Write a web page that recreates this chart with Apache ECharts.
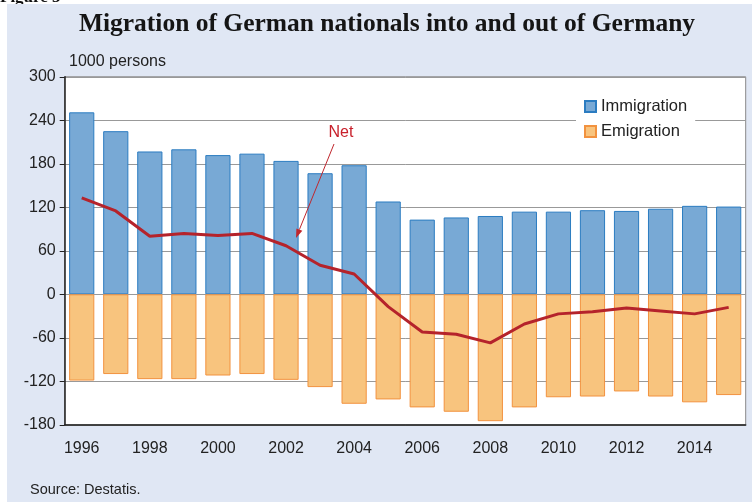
<!DOCTYPE html>
<html>
<head>
<meta charset="utf-8">
<script src="https://cdn.jsdelivr.net/npm/echarts@6/dist/echarts.min.js"></script>
<style>
  html, body { margin: 0; padding: 0; background: #fff; }
  #chart { width: 752px; height: 502px; }
</style>
</head>
<body>
<div id="chart"></div>
<script>
// data, in 1000 persons
const years = ['1996', '1997', '1998', '1999', '2000', '2001', '2002', '2003', '2004', '2005',
  '2006', '2007', '2008', '2009', '2010', '2011', '2012', '2013', '2014', '2015'];
const immigration = [251, 225, 197, 200, 192, 194, 184, 167, 178, 128,
  103, 106, 108, 114, 114, 116, 115, 118, 122, 121];
const emigration = [-119, -110, -117, -117, -112, -110, -118, -128, -151, -145,
  -156, -162, -175, -156, -142, -141, -134, -141, -149, -139];
const net = [133, 115, 80, 84, 81, 84, 67, 40, 28, -17,
  -52, -55, -67, -41, -27, -24, -19, -23, -27, -18];
const yTicks = { min: -180, max: 300, step: 60 };

const sans = 'Liberation Sans';
const chart = echarts.init(document.getElementById('chart'));

// small arrow for the "Net" note
function arrow(x1, y1, x2, y2, color) {
  const a = Math.atan2(y2 - y1, x2 - x1);
  const len = 9, half = 3.2;
  const bx = x2 - len * Math.cos(a), by = y2 - len * Math.sin(a);
  const px = -Math.sin(a) * half, py = Math.cos(a) * half;
  return [
    { type: 'line', z: 20, shape: { x1: x1, y1: y1, x2: bx, y2: by }, style: { stroke: color, lineWidth: 1 } },
    { type: 'polygon', z: 20, shape: { points: [[x2, y2], [bx + px, by + py], [bx - px, by - py]] }, style: { fill: color } }
  ];
}

const option = {
  backgroundColor: '#fff',
  animation: false,
  textStyle: { fontFamily: sans },
  grid: {
    left: 64.7, right: 6.3, top: 76.8, bottom: 77.2,
    show: true, backgroundColor: '#fff', borderColor: '#888', borderWidth: 1
  },
  legend: {
    data: ['Immigration', 'Emigration'],
    icon: 'rect',
    orient: 'vertical',
    left: 576, top: 91,
    padding: [7, 8, 7, 8],
    itemWidth: 11, itemHeight: 11, itemGap: 8,
    backgroundColor: '#fff',
    textStyle: { fontSize: 16.5, color: '#222', fontFamily: sans }
  },
  xAxis: {
    type: 'category',
    data: years,
    boundaryGap: true,
    axisLine: { onZero: false, lineStyle: { color: '#222', width: 1.5 } },
    axisTick: { interval: 0, length: 5, lineStyle: { color: '#222' } },
    axisLabel: { interval: 1, fontSize: 16, color: '#222', margin: 16, fontFamily: sans }
  },
  yAxis: {
    type: 'value',
    min: yTicks.min, max: yTicks.max, interval: yTicks.step,
    axisLine: { show: true, lineStyle: { color: '#222', width: 1.5 } },
    axisTick: { show: true, length: 5, lineStyle: { color: '#222' } },
    axisLabel: { fontSize: 16, color: '#222', margin: 9, fontFamily: sans },
    splitLine: { lineStyle: { color: '#999', width: 1 } }
  },
  series: [
    {
      name: 'Immigration', type: 'bar', stack: 'mig', data: immigration,
      barCategoryGap: '26%',
      itemStyle: { color: '#78a9d5', borderColor: '#2b7cc1', borderWidth: 1 }
    },
    {
      name: 'Emigration', type: 'bar', stack: 'mig', data: emigration,
      itemStyle: { color: '#f8c47e', borderColor: '#f2923f', borderWidth: 1 }
    },
    {
      name: 'Net', type: 'line', data: net, z: 5,
      symbol: 'none',
      lineStyle: { color: '#b5232b', width: 3 }
    }
  ],
  graphic: [
    { type: 'rect', z: -10, silent: true, shape: { x: 7, y: 4, width: 745, height: 498 }, style: { fill: '#e0e7f4' } },
    { type: 'text', z: -20, left: 0, top: -11, style: { text: 'Figure 3', font: 'bold 17px "Liberation Serif"', fill: '#111' } },
    { type: 'text', x: 387, y: 37, style: { text: 'Migration of German nationals into and out of Germany',
      font: 'bold 25.5px "Liberation Serif"', fill: '#151515', textAlign: 'center', textVerticalAlign: 'bottom' } },
    { type: 'text', x: 69, y: 62, style: { text: '1000 persons', font: '16px "Liberation Sans"', fill: '#222', textVerticalAlign: 'middle' } },
    { type: 'text', x: 30, y: 490, style: { text: 'Source: Destatis.', font: '14.5px "Liberation Sans"', fill: '#222', textVerticalAlign: 'middle' } },
    { type: 'text', z: 20, x: 341, y: 133, style: { text: 'Net', font: '16px "Liberation Sans"', fill: '#c8202b', textAlign: 'center', textVerticalAlign: 'middle' } }
  ].concat(arrow(334, 144, 296, 238, '#c0272d'))
};
chart.setOption(option);
</script>
</body>
</html>
